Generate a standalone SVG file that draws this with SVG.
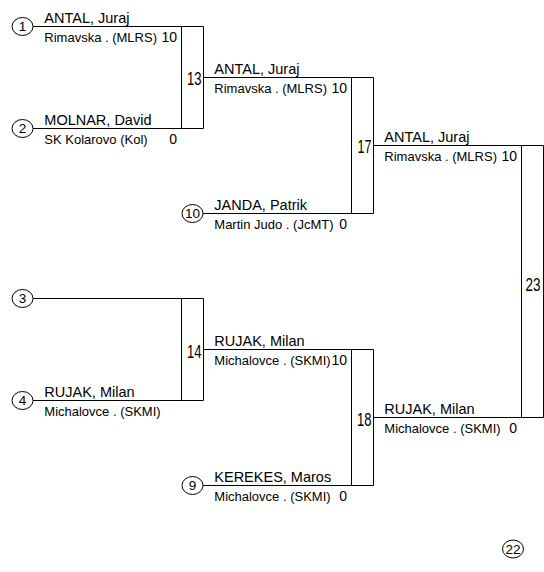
<svg xmlns="http://www.w3.org/2000/svg" width="544" height="572" viewBox="0 0 544 572">
<style>
text{font-family:"Liberation Sans",Arial,sans-serif;fill:#000}
.name{font-size:14.5px}
.club{font-size:13px}
.score{font-size:14px;text-anchor:end}
.rnd{font-size:18px;text-anchor:end}
.seed{font-size:13.5px;text-anchor:middle}
.ln{stroke:#000;stroke-width:1;fill:none}
.ring{stroke:#000;stroke-width:1;fill:#fff}
</style>
<rect width="544" height="572" fill="#fff"/>
<g id="connectors" class="ln">
<path d="M33 26.5H203.5M33 128.5H203.5M33 298.5H203.5M33 400.5H203.5"/>
<path d="M203.5 77.5H373.5M203 213.5H373.5M203.5 349.5H373.5M203 485.5H373.5"/>
<path d="M373.5 145.5H543.5M373.5 417.5H543.5"/>
</g>
<g id="match-13"><path class="ln" d="M181.5 26.5V128.5M203.5 26.5V128.5"/><text class="rnd" x="201.5" y="85" textLength="14.5" lengthAdjust="spacingAndGlyphs">13</text></g>
<g id="match-14"><path class="ln" d="M181.5 298.5V400.5M203.5 298.5V400.5"/><text class="rnd" x="201.5" y="358" textLength="14.5" lengthAdjust="spacingAndGlyphs">14</text></g>
<g id="match-17"><path class="ln" d="M351.5 77.5V213.5M373.5 77.5V213.5"/><text class="rnd" x="371.5" y="153" textLength="14" lengthAdjust="spacingAndGlyphs">17</text></g>
<g id="match-18"><path class="ln" d="M351.5 349.5V485.5M373.5 349.5V485.5"/><text class="rnd" x="371.5" y="426" textLength="14.5" lengthAdjust="spacingAndGlyphs">18</text></g>
<g id="match-23"><path class="ln" d="M521.5 145.5V417.5M543.5 145.5V417.5"/><text class="rnd" x="540.5" y="291" textLength="15" lengthAdjust="spacingAndGlyphs">23</text></g>
<g id="seed-1"><ellipse class="ring" cx="22.5" cy="26.5" rx="10.5" ry="9"/><text class="seed" x="22.5" y="31.3">1</text></g>
<g id="seed-2"><ellipse class="ring" cx="22.5" cy="128.5" rx="10.5" ry="9"/><text class="seed" x="22.5" y="133.3">2</text></g>
<g id="seed-3"><ellipse class="ring" cx="22.5" cy="298.5" rx="10.5" ry="9"/><text class="seed" x="22.5" y="303.3">3</text></g>
<g id="seed-4"><ellipse class="ring" cx="22.5" cy="400.5" rx="10.5" ry="9"/><text class="seed" x="22.5" y="405.3">4</text></g>
<g id="seed-10"><ellipse class="ring" cx="192.5" cy="213.5" rx="10.5" ry="9"/><text class="seed" x="192.5" y="218.3">10</text></g>
<g id="seed-9"><ellipse class="ring" cx="192.5" cy="485.5" rx="10.5" ry="9"/><text class="seed" x="192.5" y="490.3">9</text></g>
<g id="seed-22"><ellipse class="ring" cx="513" cy="549" rx="10.5" ry="9"/><text class="seed" x="513" y="553.8">22</text></g>
<g id="entry-antal-r1"><text class="name" x="44.3" y="22.7">ANTAL, Juraj</text><text class="club" x="44.3" y="41.8">Rimavska . (MLRS)</text><text class="score" x="177" y="41.8">10</text></g>
<g id="entry-molnar-r1"><text class="name" x="44.3" y="124.5">MOLNAR, David</text><text class="club" x="44.3" y="143.8">SK Kolarovo (Kol)</text><text class="score" x="177" y="143.8">0</text></g>
<g id="entry-rujak-r1"><text class="name" x="44.3" y="396.8">RUJAK, Milan</text><text class="club" x="44.3" y="416.3">Michalovce . (SKMI)</text></g>
<g id="entry-antal-r2"><text class="name" x="214.3" y="73.7">ANTAL, Juraj</text><text class="club" x="214.3" y="92.8">Rimavska . (MLRS)</text><text class="score" x="347" y="92.8">10</text></g>
<g id="entry-janda-r2"><text class="name" x="214.3" y="209.7">JANDA, Patrik</text><text class="club" x="214.3" y="228.8">Martin Judo . (JcMT)</text><text class="score" x="347" y="228.8">0</text></g>
<g id="entry-rujak-r2"><text class="name" x="214.3" y="345.7">RUJAK, Milan</text><text class="club" x="214.3" y="364.8">Michalovce . (SKMI)</text><text class="score" x="347" y="364.8">10</text></g>
<g id="entry-kerekes-r2"><text class="name" x="214.3" y="481.7">KEREKES, Maros</text><text class="club" x="214.3" y="500.8">Michalovce . (SKMI)</text><text class="score" x="347" y="500.8">0</text></g>
<g id="entry-antal-r3"><text class="name" x="384.3" y="141.7">ANTAL, Juraj</text><text class="club" x="384.3" y="160.8">Rimavska . (MLRS)</text><text class="score" x="517" y="160.8">10</text></g>
<g id="entry-rujak-r3"><text class="name" x="384.3" y="413.7">RUJAK, Milan</text><text class="club" x="384.3" y="432.8">Michalovce . (SKMI)</text><text class="score" x="517" y="432.8">0</text></g>
</svg>
